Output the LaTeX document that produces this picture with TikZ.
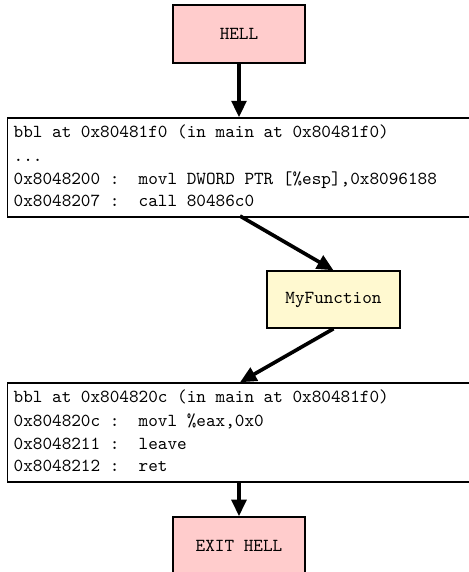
\documentclass[tikz,border=0pt]{standalone}
\usetikzlibrary{arrows.meta}
\definecolor{hellpink}{RGB}{255,204,204}
\definecolor{fnyellow}{RGB}{255,249,208}
\begin{document}
\begin{tikzpicture}[x=0.5458pt,y=-0.5458pt,
  font=\fontsize{10}{12}\ttfamily,
  endbox/.style={draw, line width=0.8pt, fill=hellpink, minimum width=72pt, minimum height=31.7pt, inner sep=0pt},
  fnbox/.style={draw, line width=0.8pt, fill=fnyellow, minimum width=72.6pt, minimum height=31.1pt, inner sep=0pt},
  codebox/.style={draw, line width=0.8pt, minimum width=254.3pt, minimum height=53.9pt, inner sep=0pt, anchor=north west},
  codeline/.style={anchor=base west, inner sep=0pt},
  flow/.style={line width=2pt, -{Triangle[length=9pt,width=8pt]}}]
\useasboundingbox (0,0) rectangle (469,572);
\node[endbox] (hell) at (239,34) {HELL};
\node[codebox] (b1) at (7,117.3) {};
\node[codeline] (b1l1) at (13.3,137.7) {bbl at 0x80481f0 (in main at 0x80481f0)};
\node[codeline] (b1l2) at (13.3,161) {...};
\node[codeline] (b1l3) at (13.3,184) {0x8048200 :~~movl DWORD PTR [\%esp],0x8096188};
\node[codeline] (b1l4) at (13.3,206.7) {0x8048207 :~~call 80486c0};
\node[fnbox] (fn) at (333.5,299.5) {MyFunction};
\node[codebox] (b2) at (7,382.3) {};
\node[codeline] (b2l1) at (13.3,402.7) {bbl at 0x804820c (in main at 0x80481f0)};
\node[codeline] (b2l2) at (13.3,426.7) {0x804820c :~~movl \%eax,0x0};
\node[codeline] (b2l3) at (13.3,449) {0x8048211 :~~leave};
\node[codeline] (b2l4) at (13.3,471.7) {0x8048212 :~~ret};
\node[endbox] (exit) at (239,546) {EXIT HELL};
\coordinate (b1top) at (239,117.3);
\coordinate (b1bot) at (240,216);
\coordinate (b2top) at (240,382.3);
\coordinate (b2bot) at (239,481);
\draw[flow] (hell) -- (b1top);
\draw[flow] (b1bot) -- (fn.north);
\draw[flow] (fn.south) -- (b2top);
\draw[flow] (b2bot) -- (exit);
\end{tikzpicture}
\end{document}
